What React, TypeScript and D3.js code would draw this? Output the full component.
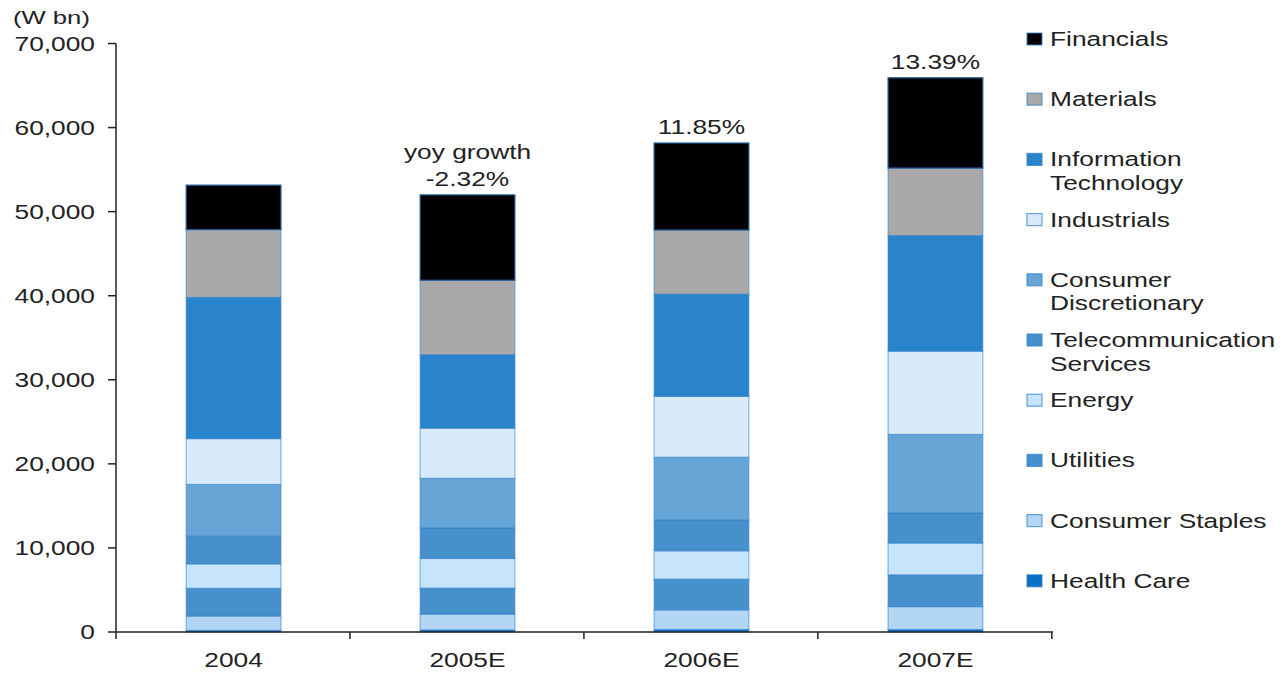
import React from "react";
import * as d3 from "d3";

// Market cap by sector (W bn), stacked bottom to top
const years = ["2004", "2005E", "2006E", "2007E"];
const sectors = [
  "Health Care",
  "Consumer Staples",
  "Utilities",
  "Energy",
  "Telecommunication Services",
  "Consumer Discretionary",
  "Industrials",
  "Information Technology",
  "Materials",
  "Financials",
];
const healthCare = [200, 250, 300, 300];
const consumerStaples = [1700, 1870, 2330, 2720];
const utilities = [3300, 3100, 3660, 3780];
const energy = [2900, 3530, 3370, 3780];
const telecom = [3300, 3620, 3660, 3580];
const consumerDisc = [6150, 5910, 7470, 9340];
const industrials = [5450, 5960, 7240, 9900];
const infoTech = [16800, 8750, 12160, 13750];
const materials = [8070, 8860, 7630, 8040];
const financials = [5280, 10140, 10340, 10730];
const seriesValues = [
  healthCare, consumerStaples, utilities, energy, telecom,
  consumerDisc, industrials, infoTech, materials, financials,
];
const growthLabels = ["", "-2.32%", "11.85%", "13.39%"];
const yTicks = [0, 10000, 20000, 30000, 40000, 50000, 60000, 70000];

// Legend order (top to bottom) with wrapped lines
const legendItems: { key: string; lines: string[] }[] = [
  { key: "Financials", lines: ["Financials"] },
  { key: "Materials", lines: ["Materials"] },
  { key: "Information Technology", lines: ["Information", "Technology"] },
  { key: "Industrials", lines: ["Industrials"] },
  { key: "Consumer Discretionary", lines: ["Consumer", "Discretionary"] },
  { key: "Telecommunication Services", lines: ["Telecommunication", "Services"] },
  { key: "Energy", lines: ["Energy"] },
  { key: "Utilities", lines: ["Utilities"] },
  { key: "Consumer Staples", lines: ["Consumer Staples"] },
  { key: "Health Care", lines: ["Health Care"] },
];

const colors: Record<string, string> = {
  "Health Care": "#0b6fc3",
  "Consumer Staples": "#b3d6f5",
  Utilities: "#4690cc",
  Energy: "#c6e4fc",
  "Telecommunication Services": "#4690cc",
  "Consumer Discretionary": "#66a5d6",
  Industrials: "#d9ebfa",
  "Information Technology": "#2a84cb",
  Materials: "#a9a9a9",
  Financials: "#000000",
};

const W = 1285;
const H = 673;
const SX = 1.35; // horizontal text stretch
const FONT = "'Liberation Sans', Arial, sans-serif";
const TEXT = "#222";

function SText(props: {
  x: number;
  y: number;
  anchor?: "start" | "middle" | "end";
  size?: number;
  children: React.ReactNode;
}) {
  const { x, y, anchor = "start", size = 19.5, children } = props;
  return (
    <text
      transform={`translate(${x},${y}) scale(${SX},1)`}
      textAnchor={anchor}
      fontSize={size}
      fontFamily={FONT}
      fill={TEXT}
    >
      {children}
    </text>
  );
}

export default function App() {
  const x = d3
    .scaleBand<string>()
    .domain(years)
    .range([116, 1053])
    .paddingInner(0.595)
    .paddingOuter(0.3);
  const y = d3.scaleLinear().domain([0, 70000]).range([632, 43.5]);

  const table = years.map((yr, i) => {
    const row: Record<string, number | string> = { year: yr };
    sectors.forEach((s, k) => (row[s] = seriesValues[k][i]));
    return row;
  });
  const stack = d3.stack<Record<string, number | string>>().keys(sectors);
  const layers = stack(table as any);

  const totals = years.map((_, i) => d3.sum(seriesValues, (s) => s[i]));
  const step = x.step();
  const boundaries = d3.range(5).map((k) => 116 + k * step);

  return (
    <svg width={W} height={H} style={{ position: "absolute", left: 0, top: 0, background: "#fff" }}>
      {/* unit label */}
      <SText x={13} y={24} size={19}>(W bn)</SText>

      {/* y axis */}
      <line x1={116} x2={116} y1={y(70000)} y2={y(0)} stroke="#222" strokeWidth={1.5} />
      {yTicks.map((t) => (
        <g key={t}>
          <line x1={108} x2={116} y1={y(t)} y2={y(t)} stroke="#222" strokeWidth={1.5} />
          <SText x={95} y={y(t) + 7} anchor="end">{d3.format(",")(t)}</SText>
        </g>
      ))}

      {/* stacked bars */}
      {layers.map((layer) => (
        <g key={layer.key}>
          {layer.map((d, i) => (
            <rect
              key={i}
              x={x(years[i])!}
              width={x.bandwidth()}
              y={y(d[1])}
              height={y(d[0]) - y(d[1])}
              fill={colors[layer.key]}
              stroke={layer.key === "Financials" ? "#1d5a9a" : "#2f7fcc"}
              strokeOpacity={layer.key === "Financials" ? 1 : 0.55}
              strokeWidth={1.2}
            />
          ))}
        </g>
      ))}

      {/* x axis */}
      <line x1={116} x2={1053} y1={y(0)} y2={y(0)} stroke="#222" strokeWidth={1.5} />
      {boundaries.map((b, k) => (
        <line key={k} x1={b} x2={b} y1={y(0)} y2={y(0) + 7} stroke="#222" strokeWidth={1.5} />
      ))}
      {years.map((yr) => (
        <SText key={yr} x={x(yr)! + x.bandwidth() / 2} y={667} anchor="middle">{yr}</SText>
      ))}

      {/* growth annotations */}
      <SText x={x("2005E")! + x.bandwidth() / 2} y={159} anchor="middle">yoy growth</SText>
      {years.map((yr, i) =>
        growthLabels[i] ? (
          <SText key={yr} x={x(yr)! + x.bandwidth() / 2} y={y(totals[i]) - 9} anchor="middle">
            {growthLabels[i]}
          </SText>
        ) : null
      )}

      {/* legend */}
      {legendItems.map((item, k) => {
        const cy = 39 + k * 60.2;
        return (
          <g key={item.key}>
            <rect
              x={1027}
              y={cy - 6}
              width={15}
              height={12}
              fill={colors[item.key]}
              stroke="#2f7fcc"
              strokeOpacity={0.7}
              strokeWidth={1.2}
            />
            {item.lines.map((ln, j) => (
              <SText key={j} x={1050} y={cy + 7 + j * 23.5}>{ln}</SText>
            ))}
          </g>
        );
      })}
    </svg>
  );
}
